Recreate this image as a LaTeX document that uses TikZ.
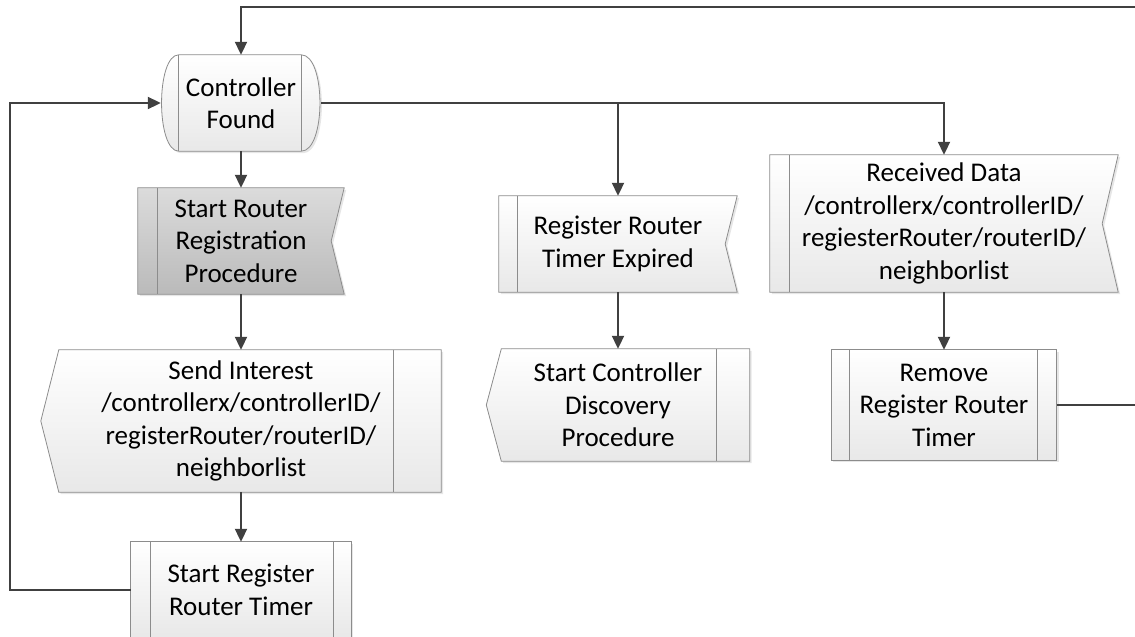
\documentclass[tikz,border=0pt]{standalone}
\usepackage{fontspec}
\setmainfont{Carlito}
\usepackage{tikz}
\usetikzlibrary{arrows.meta,shadows,backgrounds}
\definecolor{linegray}{HTML}{404040}
\definecolor{edgegray}{HTML}{8C8C8C}

\begin{document}
\begin{tikzpicture}[x=1pt,y=-1pt,
        flow/.style={draw=linegray, line width=2pt, -{Triangle[width=12pt,length=13pt]}},
        box/.style={draw=none, align=center, inner sep=0pt, font=\fontsize{27}{32.5}\selectfont},
        outline/.style={draw=edgegray, line width=0.8pt, top color=white, bottom color=black!9,
                drop shadow={opacity=0.2, shadow xshift=2pt, shadow yshift=-2pt}},
        darkfill/.style={top color=black!14, bottom color=black!27},
        stripe/.style={draw=edgegray, line width=0.8pt}]
        \useasboundingbox (0,0) rectangle (1135,637);

        \node[box, minimum width=160pt, minimum height=96pt] (found) at (241,103) {Controller\\Found};
        \node[box, minimum width=206pt, minimum height=106pt] (reg) at (241,241) {Start Router\\Registration\\Procedure};
        \node[box, minimum width=400pt, minimum height=142pt] (send) at (241,421) {Send Interest\\/controllerx/controllerID/\\registerRouter/routerID/\\neighborlist};
        \node[box, minimum width=220pt, minimum height=96pt] (timer) at (241,590) {Start Register\\Router Timer};
        \node[box, minimum width=238pt, minimum height=96pt] (expired) at (618,244) {Register Router\\Timer Expired};
        \node[box, minimum width=263pt, minimum height=112pt] (discovery) at (618,405) {Start Controller\\Discovery\\Procedure};
        \node[box, minimum width=348pt, minimum height=137pt] (recv) at (944,223.5) {Received Data\\/controllerx/controllerID/\\regiesterRouter/routerID/\\neighborlist};
        \node[box, minimum width=225pt, minimum height=110pt] (remove) at (944,405) {Remove\\Register Router\\Timer};

        \begin{scope}[on background layer]
        \draw[outline] ([xshift=18pt]found.north west) -- ([xshift=-20pt]found.north east)
                .. controls ([xshift=5pt]found.north east) and ([xshift=5pt]found.south east) .. ([xshift=-20pt]found.south east)
                -- ([xshift=18pt]found.south west)
                .. controls ([xshift=-5pt]found.south west) and ([xshift=-5pt]found.north west) .. cycle;
        \draw[stripe] ([xshift=18pt]found.north west) -- ([xshift=18pt]found.south west);
        \draw[stripe] ([xshift=-20pt]found.north east) -- ([xshift=-20pt]found.south east);

        \draw[outline, darkfill] (reg.north west) -- (reg.north east) -- ([xshift=-13pt]reg.east) -- (reg.south east) -- (reg.south west) -- cycle;
        \draw[stripe] ([xshift=20pt]reg.north west) -- ([xshift=20pt]reg.south west);

        \draw[outline] ([xshift=18pt]send.north west) -- (send.north east) -- (send.south east) -- ([xshift=18pt]send.south west) -- (send.west) -- cycle;
        \draw[stripe] ([xshift=-48pt]send.north east) -- ([xshift=-48pt]send.south east);

        \draw[outline] (timer.north west) rectangle (timer.south east);
        \draw[stripe] ([xshift=20pt]timer.north west) -- ([xshift=20pt]timer.south west);
        \draw[stripe] ([xshift=-18pt]timer.north east) -- ([xshift=-18pt]timer.south east);

        \draw[outline] (expired.north west) -- (expired.north east) -- ([xshift=-12pt]expired.east) -- (expired.south east) -- (expired.south west) -- cycle;
        \draw[stripe] ([xshift=19pt]expired.north west) -- ([xshift=19pt]expired.south west);

        \draw[outline] ([xshift=15pt]discovery.north west) -- (discovery.north east) -- (discovery.south east) -- ([xshift=15pt]discovery.south west) -- (discovery.west) -- cycle;
        \draw[stripe] ([xshift=-33pt]discovery.north east) -- ([xshift=-33pt]discovery.south east);

        \draw[outline] (recv.north west) -- (recv.north east) -- ([xshift=-16pt]recv.east) -- (recv.south east) -- (recv.south west) -- cycle;
        \draw[stripe] ([xshift=20pt]recv.north west) -- ([xshift=20pt]recv.south west);

        \draw[outline] (remove.north west) rectangle (remove.south east);
        \draw[stripe] ([xshift=18pt]remove.north west) -- ([xshift=18pt]remove.south west);
        \draw[stripe] ([xshift=-19pt]remove.north east) -- ([xshift=-19pt]remove.south east);
        \end{scope}

        \coordinate (split) at (found.east -| expired.north);
        \coordinate (topright) at (1150,7);
        \coordinate (leftturn) at (10,103);
        \draw[flow] (found.south) -- (reg.north);
        \draw[flow] (reg.south) -- (send.north);
        \draw[flow] (send.south) -- (timer.north);
        \draw[flow] (found.east) -| (recv.north);
        \draw[flow] (split) -- (expired.north);
        \draw[flow] (expired.south) -- (discovery.north);
        \draw[flow] (recv.south) -- (remove.north);
        \draw[flow] (remove.east) -| (topright) -| (found.north);
        \draw[flow] (timer.west) -| (leftturn) -- (found.west);
    \end{tikzpicture}
\end{document}
